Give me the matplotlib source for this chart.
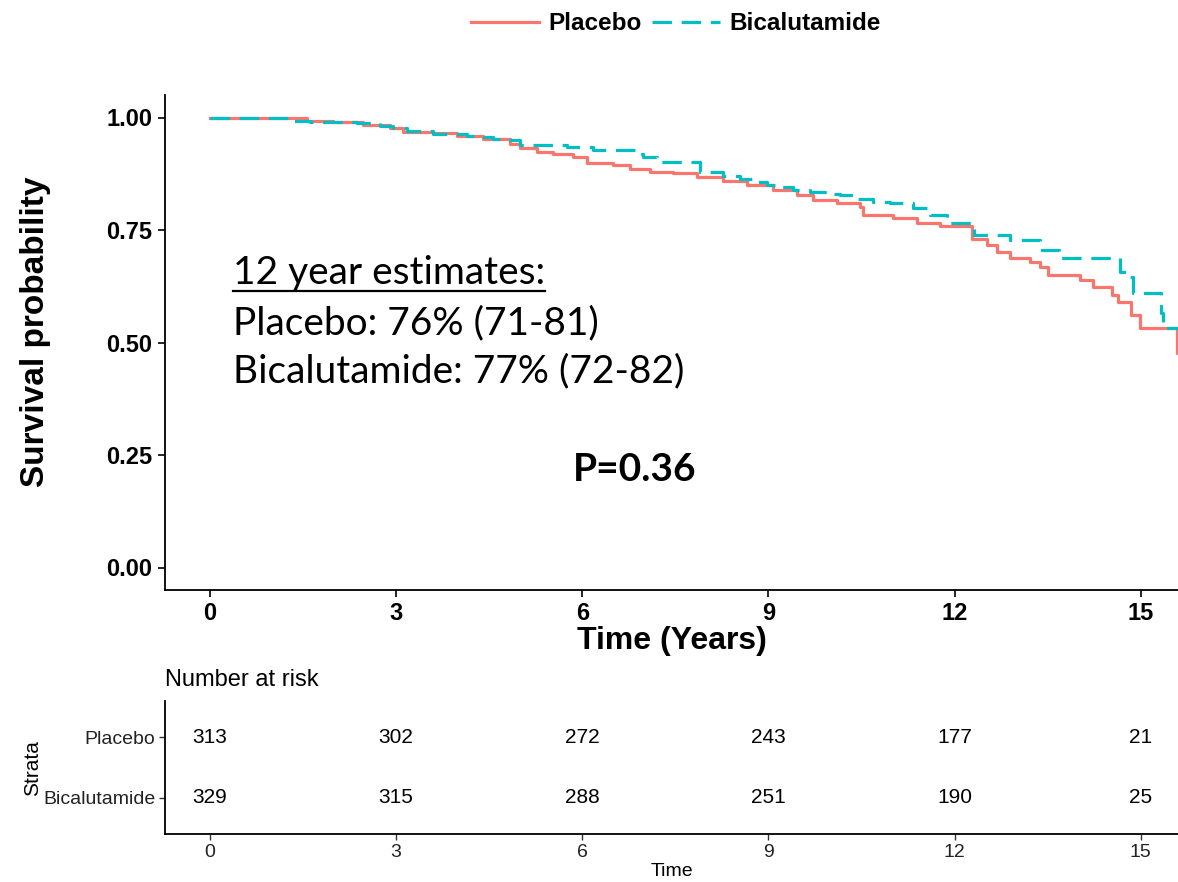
import matplotlib
matplotlib.use("Agg")
import matplotlib.pyplot as plt
from matplotlib.lines import Line2D

# Kaplan-Meier steps: (time in years, survival after the step)
placeboTime = [0.0, 0.37, 1.56, 1.98, 2.46, 2.90, 3.11, 3.59, 3.98, 4.40, 4.83, 4.99,
               5.27, 5.53, 5.85, 6.07, 6.49, 6.77, 7.09, 7.46, 7.85, 8.26, 8.65, 9.07,
               9.46, 9.71, 10.10, 10.47, 10.52, 11.00, 11.39, 11.76, 12.28, 12.52, 12.68,
               12.89, 13.21, 13.37, 13.50, 14.02, 14.23, 14.53, 14.63, 14.85, 14.98, 15.58,
               15.70]
placeboSurv = [1.000, 0.998, 0.993, 0.989, 0.983, 0.976, 0.967, 0.965, 0.960, 0.953, 0.942,
               0.932, 0.923, 0.918, 0.912, 0.900, 0.894, 0.885, 0.880, 0.876, 0.868, 0.860,
               0.849, 0.838, 0.827, 0.816, 0.809, 0.801, 0.783, 0.776, 0.766, 0.758, 0.729,
               0.716, 0.701, 0.687, 0.679, 0.668, 0.650, 0.639, 0.623, 0.605, 0.590, 0.561,
               0.533, 0.477, 0.477]

bicaTime = [0.0, 0.32, 1.34, 1.61, 2.37, 2.74, 2.95, 3.17, 3.59, 4.14, 4.35, 4.56, 4.78,
            4.99, 5.75, 6.17, 6.93, 6.98, 7.20, 7.89, 8.26, 8.54, 8.75, 8.97, 9.18, 9.39,
            9.67, 9.94, 10.15, 10.42, 10.68, 10.96, 11.33, 11.55, 11.60, 11.87, 12.32,
            12.89, 13.37, 13.69, 14.66, 14.82, 14.87, 15.32, 15.36, 15.70]
bicaSurv = [1.000, 0.998, 0.993, 0.991, 0.988, 0.982, 0.976, 0.971, 0.964, 0.960, 0.956,
            0.953, 0.949, 0.938, 0.934, 0.927, 0.920, 0.912, 0.901, 0.879, 0.871, 0.864,
            0.857, 0.849, 0.845, 0.838, 0.834, 0.831, 0.827, 0.820, 0.812, 0.809, 0.798,
            0.790, 0.783, 0.766, 0.738, 0.727, 0.705, 0.687, 0.657, 0.646, 0.609, 0.565,
            0.533, 0.533]

riskTimes = [0, 3, 6, 9, 12, 15]
riskPlacebo = [313, 302, 272, 243, 177, 21]
riskBica = [329, 315, 288, 251, 190, 25]
strata = ["Bicalutamide", "Placebo"]

redCol = "#F8766D"
tealCol = "#00BFC4"
dashStyle = (0, (14, 7))

plt.rcParams["font.family"] = ["Liberation Sans", "DejaVu Sans"]
plt.rcParams["lines.scale_dashes"] = False

W, H = 1178, 882
fig = plt.figure(figsize=(W / 100, H / 100), dpi=100)

# Main survival plot
ax = fig.add_axes([165 / W, 1 - 590 / H, (W - 165) / W, (590 - 95) / H])
ax.plot(placeboTime, placeboSurv, drawstyle="steps-post", color=redCol, lw=2.3)
ax.plot(bicaTime, bicaSurv, drawstyle="steps-post", color=tealCol, lw=2.3,
        linestyle=dashStyle)
ax.set_xlim(-0.725, 15.6)
ax.set_ylim(-0.05, 1.05)
ax.set_xticks(riskTimes)
ax.set_yticks([0, 0.25, 0.5, 0.75, 1.0])
ax.set_yticklabels(["0.00", "0.25", "0.50", "0.75", "1.00"])
for s in ["top", "right"]:
  ax.spines[s].set_visible(False)
for s in ["left", "bottom"]:
  ax.spines[s].set_linewidth(1.3)
ax.tick_params(length=5, width=1.2, labelsize=17, pad=4)
for lab in ax.get_xticklabels() + ax.get_yticklabels():
  lab.set_fontweight("bold")
ax.set_xlabel("Time (Years)", fontsize=23, fontweight="bold", labelpad=0)
ax.set_ylabel("Survival probability", fontsize=24, fontweight="bold")
ax.yaxis.set_label_coords((51 - 165) / (W - 165), (590 - 332) / (590 - 95))

# Annotations
annotFont = ["Lato", "DejaVu Sans"]
head = ax.text(0.37, 0.654, "12 year estimates:", fontsize=28, family=annotFont,
               va="center")
ax.text(0.37, 0.543, "Placebo: 76% (71-81)", fontsize=28, family=annotFont, va="center")
ax.text(0.37, 0.435, "Bicalutamide: 77% (72-82)", fontsize=28, family=annotFont,
        va="center")
ax.text(5.85, 0.217, "P=0.36", fontsize=28, family=annotFont, fontweight="bold",
        va="center")

# Legend on top
handles = [Line2D([], [], color=redCol, lw=2.3),
           Line2D([], [], color=tealCol, lw=2.3, linestyle=dashStyle)]
leg = fig.legend(handles, ["Placebo", "Bicalutamide"], loc="center",
                 bbox_to_anchor=(676 / W, 1 - 24 / H), ncol=2, frameon=False,
                 prop={"size": 17.5, "weight": "bold"}, handlelength=2.8,
                 handletextpad=0.4, columnspacing=0.4)

# Number at risk table
rx = fig.add_axes([165 / W, 1 - 834 / H, (W - 165) / W, (834 - 701) / H])
for t, n in zip(riskTimes, riskPlacebo):
  rx.text(t, 2, str(n), ha="center", va="center", fontsize=15)
for t, n in zip(riskTimes, riskBica):
  rx.text(t, 1, str(n), ha="center", va="center", fontsize=15)
rx.set_xlim(-0.725, 15.6)
rx.set_ylim(0.4, 2.6)
rx.set_xticks(riskTimes)
rx.set_yticks([1, 2])
rx.set_yticklabels(strata)
for s in ["top", "right"]:
  rx.spines[s].set_visible(False)
for s in ["left", "bottom"]:
  rx.spines[s].set_linewidth(1.3)
rx.tick_params(length=4, width=1.0, labelsize=14, pad=3, colors="#333333",
               labelcolor="#222222")
rx.set_xlabel("Time", fontsize=14, labelpad=2)
rx.set_ylabel("Strata", fontsize=15)
rx.yaxis.set_label_coords((42 - 165) / (W - 165), (834 - 768) / (834 - 701))
fig.text(165 / W, 1 - 680 / H, "Number at risk", fontsize=17, va="center", ha="left")

# Underline the heading using its rendered extent
fig.canvas.draw()
bb = head.get_window_extent()
uy = 1 - 291 / H
fig.add_artist(Line2D([bb.x0 / W, bb.x1 / W], [uy, uy], color="black", lw=1.6))

fig.savefig("out.png", dpi=100)
